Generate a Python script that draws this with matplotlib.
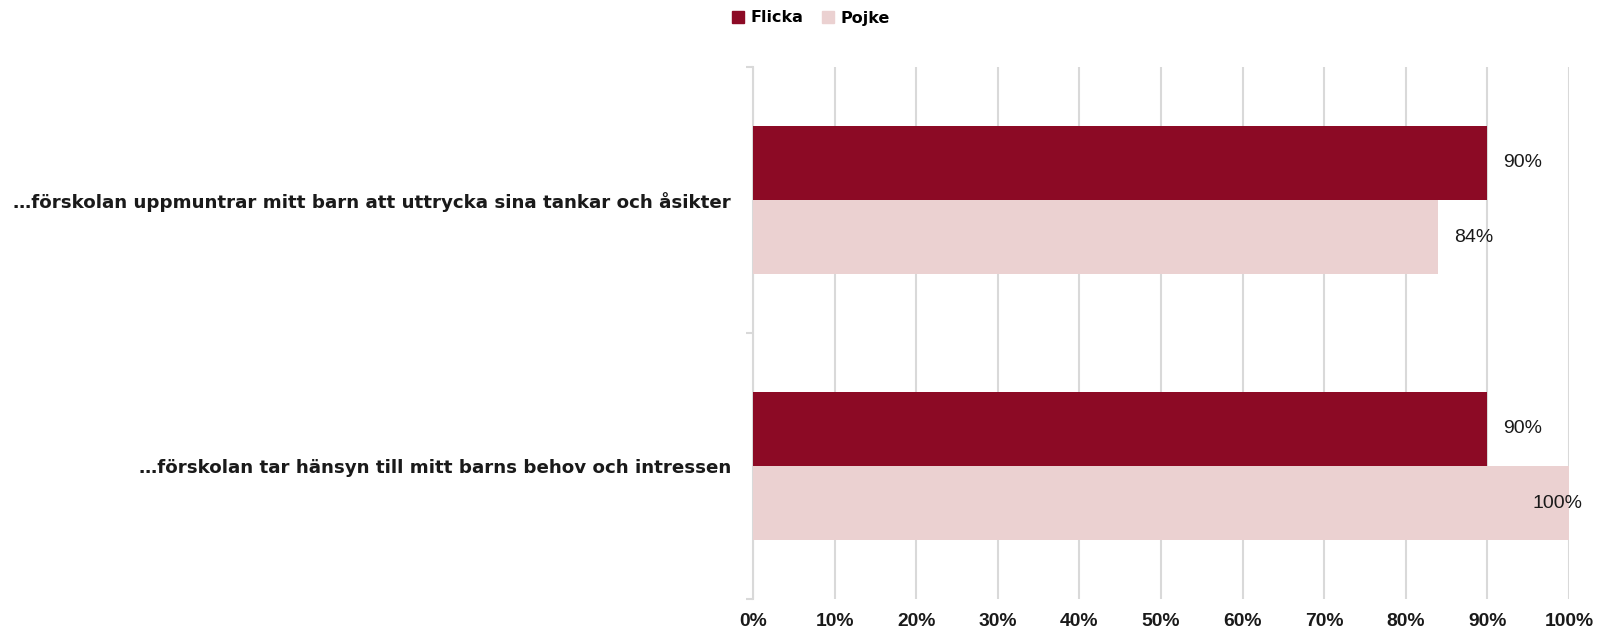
import matplotlib
matplotlib.use("Agg")
import matplotlib.pyplot as plt
from matplotlib.patches import Patch

categories = ["…förskolan uppmuntrar mitt barn att uttrycka sina tankar och åsikter",
              "…förskolan tar hänsyn till mitt barns behov och intressen"]
flicka = [90, 90]
pojke = [84, 100]
xticks = [0, 10, 20, 30, 40, 50, 60, 70, 80, 90, 100]
series_names = ["Flicka", "Pojke"]

c_f = "#8C0A25"
c_p = "#EBD1D1"
grid_c = "#D9D9D9"
txt_c = "#1a1a1a"
W, H = 1615, 630

fig = plt.figure(figsize=(W/100, H/100), dpi=100)
ax = fig.add_axes([753/W, 1-599/H, 816/W, 532/H])

h = 0.28
ys = list(range(len(categories)))
ax.barh([y - h/2 for y in ys], flicka, height=h, color=c_f, zorder=3)
ax.barh([y + h/2 for y in ys], pojke, height=h, color=c_p, zorder=3)

val_texts = []
for y, v in zip(ys, flicka):
    val_texts.append(ax.annotate(f"{v}%", (v, y - h/2), xytext=(11.5, 0), textcoords="offset points",
                                 va="center", ha="left", fontsize=13.5, family="Liberation Sans",
                                 color=txt_c, zorder=4))
for y, v in zip(ys, pojke):
    val_texts.append(ax.annotate(f"{v}%", (v, y + h/2), xytext=(11.5, 0), textcoords="offset points",
                                 va="center", ha="left", fontsize=13.5, family="Liberation Sans",
                                 color=txt_c, zorder=4))

ax.set_xlim(0, 100)
ax.set_ylim(1.5, -0.5)
ax.set_xticks(xticks)
ax.set_xticklabels([f"{t}%" for t in xticks], fontsize=13.5, family="Liberation Sans",
                   fontweight="bold", color=txt_c)
ax.tick_params(axis="x", length=0, pad=10)
ax.xaxis.grid(True, color=grid_c, linewidth=1.5, zorder=0)

ax.set_yticks([-0.5, 0.5, 1.5])
ax.set_yticklabels([])
ax.tick_params(axis="y", length=5, color=grid_c, width=1.5)
ax.set_yticks(ys, minor=True)
ax.set_yticklabels(categories, minor=True, fontsize=14, family="DejaVu Sans",
                   fontweight="bold", color=txt_c)
ax.tick_params(axis="y", which="minor", length=0, pad=16)

for s in ["top", "right", "bottom"]:
    ax.spines[s].set_visible(False)
ax.spines["left"].set_color(grid_c)
ax.spines["left"].set_linewidth(1.5)

handles = [Patch(color=c_f, label=series_names[0]), Patch(color=c_p, label=series_names[1])]
leg = fig.legend(handles=handles, loc="center", bbox_to_anchor=(811/W, 1-18/H), ncol=2,
                 frameon=False, prop={"family": "DejaVu Sans", "weight": "bold", "size": 11.5},
                 handlelength=0.75, handleheight=0.75, handletextpad=0.4, columnspacing=1.2)

# fit text sizes to the widths seen in the reference
fig.canvas.draw()
r = fig.canvas.get_renderer()

def fit(texts, ref_text, target):
    for _ in range(2):
        w = ref_text.get_window_extent(r).width
        s = ref_text.get_fontsize() * target / w
        for t in texts:
            t.set_fontsize(s)

ylabels = ax.get_yticklabels(minor=True)
fit(ylabels, ylabels[0], 716)
xlabels = ax.get_xticklabels()
fit(xlabels, xlabels[-1], 49)
fit(val_texts, val_texts[0], 39)
fig.canvas.draw()

# keep value labels inside the figure (as the reference does for 100%)
limit = W - 32
for t in val_texts:
    bb = t.get_window_extent(r)
    if bb.x1 > limit:
        dx_pt = (bb.x1 - limit) * 72 / fig.dpi
        ox, oy = t.xyann
        t.xyann = (ox - dx_pt, oy)
fig.canvas.draw()

fig.savefig("out.png", dpi=100, facecolor="white")
